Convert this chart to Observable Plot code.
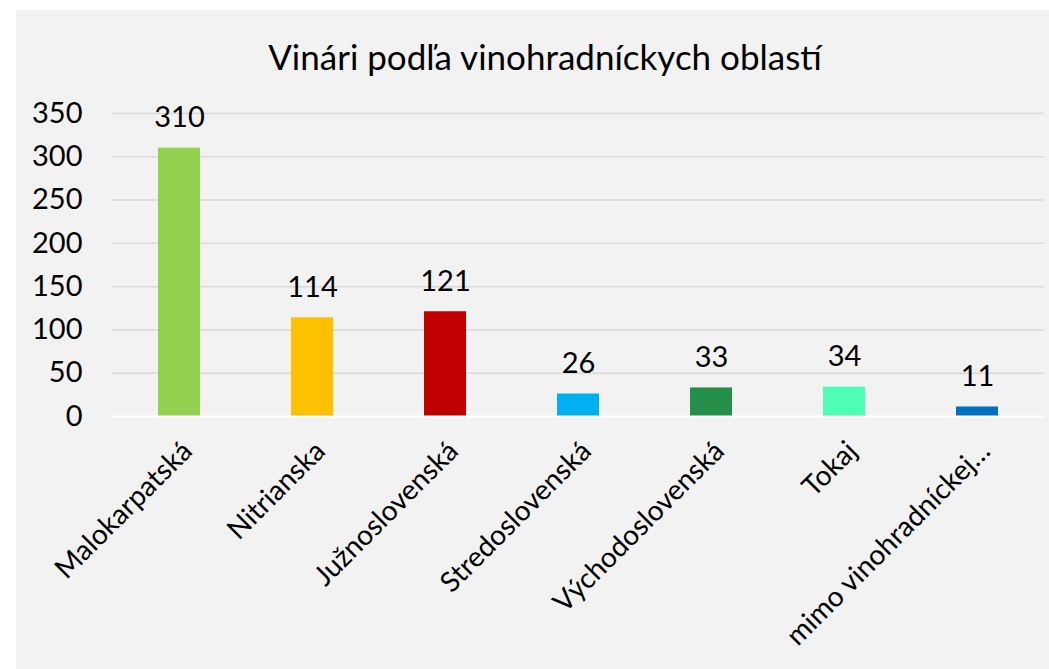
<!DOCTYPE html>
<html>
<head>
<meta charset="utf-8">
<script src="https://cdn.jsdelivr.net/npm/d3@7"></script>
<script src="https://cdn.jsdelivr.net/npm/@observablehq/plot@0.6"></script>
<style>
  html, body { margin: 0; padding: 0; background: #ffffff; }
  #panel { position: absolute; left: 16px; top: 10px; width: 1033px; height: 659px; background: #f2f2f2; overflow: hidden; }
  #title { position: absolute; left: 0; top: 0; width: 1058px; height: 80px; text-align: center; font-family: Lato, "Liberation Sans", sans-serif; font-size: 35px; line-height: 92px; color: #000; }
  #chart { position: absolute; left: 0; top: 80px; }
</style>
</head>
<body>
<div id="panel">
  <div id="title">Vinári podľa vinohradníckych oblastí</div>
  <div id="chart"></div>
</div>
<script>
const regions = ["Malokarpatská", "Nitrianska", "Južnoslovenská", "Stredoslovenská", "Východoslovenská", "Tokaj", "mimo vinohradníckej…"];
const winemakers = [310, 114, 121, 26, 33, 34, 11];
const barColors = ["#92d050", "#ffc000", "#c00000", "#00b0f0", "#248f49", "#4dffb4", "#0070c0"];
const yTicks = [0, 50, 100, 150, 200, 250, 300, 350];

const data = regions.map((r, i) => ({region: r, value: winemakers[i], color: barColors[i]}));
const font = "Lato, 'Liberation Sans', sans-serif";

const chart = Plot.plot({
  width: 1033,
  height: 579,
  marginLeft: 96,
  marginRight: 5,
  marginTop: 23,
  marginBottom: 253,
  style: {background: "transparent", fontFamily: font, color: "#000"},
  x: {domain: regions, paddingInner: 0.684, paddingOuter: 0.342, label: null},
  y: {domain: [0, 350], label: null},
  marks: [
    Plot.gridY(yTicks.filter(d => d > 0), {stroke: "#d9d9d9", strokeOpacity: 1, strokeWidth: 1.5}),
    Plot.barY(data, {x: "region", y: "value", fill: "color"}),
    Plot.ruleY([0], {stroke: "#ffffff", strokeWidth: 2}),
    Plot.text(data, {x: "region", y: "value", text: d => String(d.value), lineAnchor: "bottom", dy: -21, fontSize: 29, fill: "#000"}),
    Plot.axisY({ticks: yTicks, tickSize: 0, tickPadding: 30, fontSize: 29, label: null}),
    Plot.axisX({tickSize: 0, tickPadding: 0, tickRotate: -45, fontSize: 28, dx: 8, dy: 30, label: null})
  ]
});
document.getElementById("chart").appendChild(chart);
</script>
</body>
</html>
